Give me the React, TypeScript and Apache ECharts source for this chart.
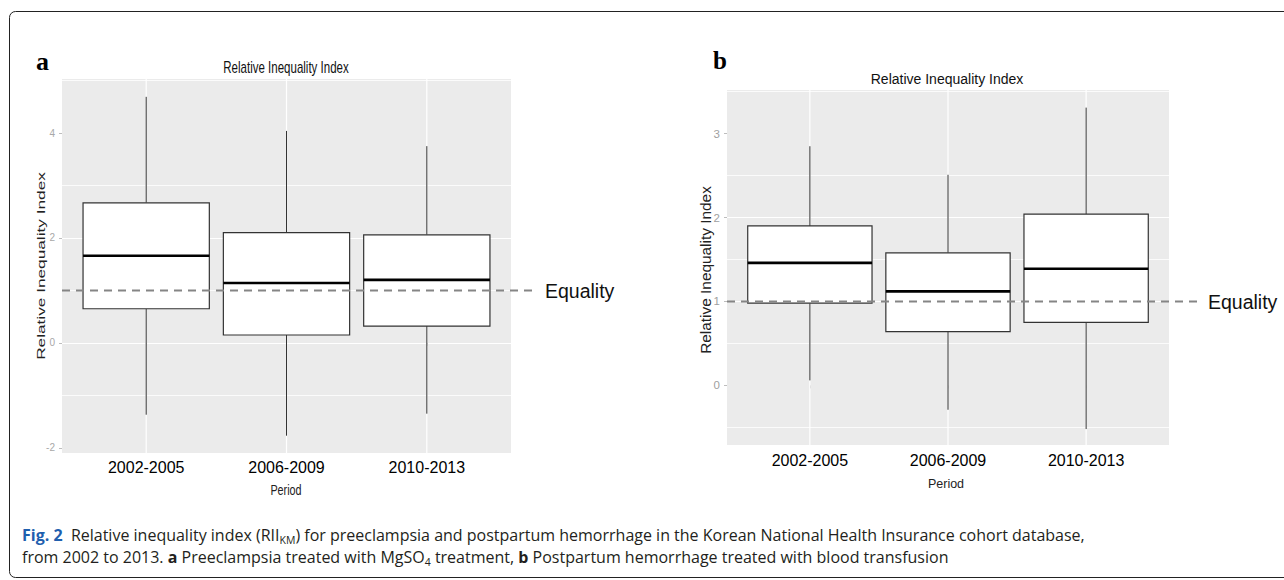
import React, { useEffect, useRef } from "react";
import * as echarts from "echarts";

// ---- data ----
const periods = ["2002-2005", "2006-2009", "2010-2013"];
// [min, Q1, median, Q3, max] per period
const boxesA = [
  [-1.37, 0.65, 1.66, 2.67, 4.69],
  [-1.77, 0.15, 1.14, 2.10, 4.04],
  [-1.35, 0.32, 1.20, 2.06, 3.75],
];
const boxesB = [
  [0.06, 0.98, 1.46, 1.90, 2.85],
  [-0.29, 0.64, 1.12, 1.58, 2.51],
  [-0.52, 0.75, 1.39, 2.04, 3.31],
];
const equalityValue = 1;
const yTicksA = [-2, 0, 2, 4];
const yTicksB = [0, 1, 2, 3];
const xPositions = [1, 2, 3];
const xDomain = [0.4, 3.6];
const yDomainA = [-2.1, 5.03];
const yDomainB = [-0.71, 3.52];
const BOX_WIDTH = 0.9;

const FONT = "'Liberation Sans', Arial, sans-serif";
const CAP_FONT = "'Open Sans', sans-serif";

function boxRenderItem(params: any, api: any) {
  const x = api.value(0);
  const lo = api.coord([x, api.value(1)]);
  const q1 = api.coord([x, api.value(2)]);
  const med = api.coord([x, api.value(3)]);
  const q3 = api.coord([x, api.value(4)]);
  const hi = api.coord([x, api.value(5)]);
  const half = api.size([BOX_WIDTH, 0])[0] / 2;
  const wStyle = { stroke: "#333", lineWidth: 1 };
  return {
    type: "group",
    children: [
      { type: "line", shape: { x1: hi[0], y1: hi[1], x2: q3[0], y2: q3[1] }, style: wStyle },
      { type: "line", shape: { x1: q1[0], y1: q1[1], x2: lo[0], y2: lo[1] }, style: wStyle },
      {
        type: "rect",
        shape: { x: q3[0] - half, y: q3[1], width: half * 2, height: q1[1] - q3[1] },
        style: { fill: "#fff", stroke: "#333", lineWidth: 1.2 },
      },
      {
        type: "line",
        shape: { x1: med[0] - half, y1: med[1], x2: med[0] + half, y2: med[1] },
        style: { stroke: "#000", lineWidth: 2.6 },
      },
    ],
  };
}

// vertical major gridlines at each category position
function vGridRenderItem(params: any, api: any) {
  const cs = params.coordSys;
  const x = api.coord([api.value(0), 0])[0];
  return {
    type: "line",
    shape: { x1: x, y1: cs.y, x2: x, y2: cs.y + cs.height },
    style: { stroke: "#fff", lineWidth: 1.2 },
  };
}

function makeEqualityRender(ext: number) {
  return (params: any, api: any) => {
    const cs = params.coordSys;
    const y = api.coord([api.value(0), api.value(1)])[1];
    const x2 = cs.x + cs.width + ext;
    return {
      type: "group",
      children: [
        {
          type: "line",
          shape: { x1: cs.x, y1: y, x2, y2: y },
          style: { stroke: "#858585", lineWidth: 2, lineDash: [8, 6] },
        },
        {
          type: "text",
          x: x2 + 8,
          y: y + 1,
          style: { text: "Equality", fill: "#111", font: `19.5px ${FONT}`, verticalAlign: "middle", textAlign: "left" },
        },
      ],
    };
  };
}

function xAxisCfg(gridIndex: number, margin: number) {
  return {
    type: "value",
    gridIndex,
    min: xDomain[0],
    max: xDomain[1],
    axisLine: { show: false },
    axisTick: { show: true, customValues: xPositions, length: 3, lineStyle: { color: "#c8c8c8" } },
    axisLabel: {
      customValues: xPositions,
      formatter: (v: number) => periods[Math.round(v) - 1] ?? "",
      color: "#000",
      fontSize: 16,
      fontFamily: FONT,
      margin,
    },
    splitLine: { show: false },
  };
}

function yAxisCfg(gridIndex: number, dom: number[], ticks: number[], splitNumber: number, fontSize: number, color: string) {
  return {
    type: "value",
    gridIndex,
    min: dom[0],
    max: dom[1],
    splitNumber,
    axisLine: { show: false },
    axisTick: { show: true, customValues: ticks, length: 3, lineStyle: { color: "#bdbdbd" } },
    axisLabel: { customValues: ticks, color, fontSize, fontFamily: FONT, margin: 7 },
    splitLine: { show: true, lineStyle: { color: "#fff", width: 1.2 }, showMinLine: false, showMaxLine: false },
    minorTick: { show: false, splitNumber: 2 },
    minorSplitLine: { show: true, lineStyle: { color: "#fff", width: 0.8 } },
  };
}

export default function App() {
  const ref = useRef<HTMLDivElement>(null);
  useEffect(() => {
    if (!ref.current) return;
    const chart = echarts.init(ref.current, null, { renderer: "svg" });
    const toData = (boxes: number[][]) => boxes.map((b, i) => [xPositions[i], ...b]);
    const gridSeries = (idx: number) => ({
      type: "custom",
      xAxisIndex: idx,
      yAxisIndex: idx,
      data: xPositions.map((p) => [p]),
      encode: { x: 0 },
      renderItem: vGridRenderItem,
      silent: true,
      z: 1,
    });
    const option: any = {
      animation: false,
      backgroundColor: "#fff",
      grid: [
        { left: 62, top: 79, width: 449, height: 374, show: true, backgroundColor: "#EBEBEB", borderWidth: 0 },
        { left: 727, top: 90, width: 442, height: 355, show: true, backgroundColor: "#EBEBEB", borderWidth: 0 },
      ],
      xAxis: [xAxisCfg(0, 6), xAxisCfg(1, 7)],
      yAxis: [
        yAxisCfg(0, yDomainA, yTicksA, 3, 10, "#a8a8a8"),
        yAxisCfg(1, yDomainB, yTicksB, 4, 11.5, "#a0a0a0"),
      ],
      series: [
        gridSeries(0),
        gridSeries(1),
        {
          type: "custom",
          xAxisIndex: 0,
          yAxisIndex: 0,
          data: toData(boxesA),
          encode: { x: 0, y: [1, 2, 3, 4, 5] },
          renderItem: boxRenderItem,
          z: 2,
        },
        {
          type: "custom",
          xAxisIndex: 1,
          yAxisIndex: 1,
          data: toData(boxesB),
          encode: { x: 0, y: [1, 2, 3, 4, 5] },
          renderItem: boxRenderItem,
          z: 2,
        },
        {
          type: "custom",
          xAxisIndex: 0,
          yAxisIndex: 0,
          data: [[xPositions[1], equalityValue]],
          encode: { x: 0, y: 1 },
          renderItem: makeEqualityRender(26),
          z: 3,
        },
        {
          type: "custom",
          xAxisIndex: 1,
          yAxisIndex: 1,
          data: [[xPositions[1], equalityValue]],
          encode: { x: 0, y: 1 },
          renderItem: makeEqualityRender(31),
          z: 3,
        },
      ],
      graphic: [
        {
          type: "rect",
          shape: { x: 9.5, y: 11.5, width: 1300, height: 566, r: 6 },
          style: { fill: "none", stroke: "#222", lineWidth: 1 },
          z: 0,
        },
        { type: "text", x: 36, y: 61, style: { text: "a", font: "bold 26px 'Liberation Serif', serif", fill: "#000", verticalAlign: "middle" } },
        { type: "text", x: 713, y: 60, style: { text: "b", font: "bold 25px 'Liberation Serif', serif", fill: "#000", verticalAlign: "middle" } },
        {
          type: "text", x: 286, y: 67, scaleX: 0.72,
          style: { text: "Relative Inequality Index", font: `16px ${FONT}`, fill: "#111", textAlign: "center", verticalAlign: "middle" },
        },
        {
          type: "text", x: 947, y: 79,
          style: { text: "Relative Inequality Index", font: `14px ${FONT}`, fill: "#111", textAlign: "center", verticalAlign: "middle" },
        },
        {
          type: "text", x: 41, y: 266, rotation: Math.PI / 2, scaleX: 1.5,
          style: { text: "Relative Inequality Index", font: `11.5px ${FONT}`, fill: "#222", textAlign: "center", verticalAlign: "middle" },
        },
        {
          type: "text", x: 706, y: 270, rotation: Math.PI / 2, scaleX: 1.1,
          style: { text: "Relative Inequality Index", font: `14px ${FONT}`, fill: "#222", textAlign: "center", verticalAlign: "middle" },
        },
        {
          type: "text", x: 286, y: 490, scaleX: 0.72,
          style: { text: "Period", font: `15px ${FONT}`, fill: "#222", textAlign: "center", verticalAlign: "middle" },
        },
        {
          type: "text", x: 946, y: 484,
          style: { text: "Period", font: `12.5px ${FONT}`, fill: "#222", textAlign: "center", verticalAlign: "middle" },
        },
        {
          type: "text", x: 22, y: 535,
          style: {
            text: "{fig|Fig. 2}  Relative inequality index (RII{sub|KM}) for preeclampsia and postpartum hemorrhage in the Korean National Health Insurance cohort database,",
            font: `16px ${CAP_FONT}`,
            fill: "#231f20",
            verticalAlign: "middle",
            lineHeight: 20,
            rich: {
              fig: { fontWeight: "bold", fill: "#1f5fae", fontSize: 16, fontFamily: CAP_FONT, lineHeight: 20 },
              sub: { fontSize: 10.5, fontFamily: CAP_FONT, fill: "#231f20", verticalAlign: "bottom", lineHeight: 11 },
            },
          },
        },
        {
          type: "text", x: 22, y: 557,
          style: {
            text: "from 2002 to 2013. {b|a} Preeclampsia treated with MgSO{sub|4} treatment, {b|b} Postpartum hemorrhage treated with blood transfusion",
            font: `16px ${CAP_FONT}`,
            fill: "#231f20",
            verticalAlign: "middle",
            lineHeight: 20,
            rich: {
              b: { fontWeight: "bold", fill: "#231f20", fontSize: 16, fontFamily: CAP_FONT, lineHeight: 20 },
              sub: { fontSize: 10.5, fontFamily: CAP_FONT, fill: "#231f20", verticalAlign: "bottom", lineHeight: 11 },
            },
          },
        },
      ],
    };
    chart.setOption(option);
    return () => chart.dispose();
  }, []);
  return <div ref={ref} style={{ position: "fixed", left: 0, top: 0, width: 1284, height: 580 }} />;
}
